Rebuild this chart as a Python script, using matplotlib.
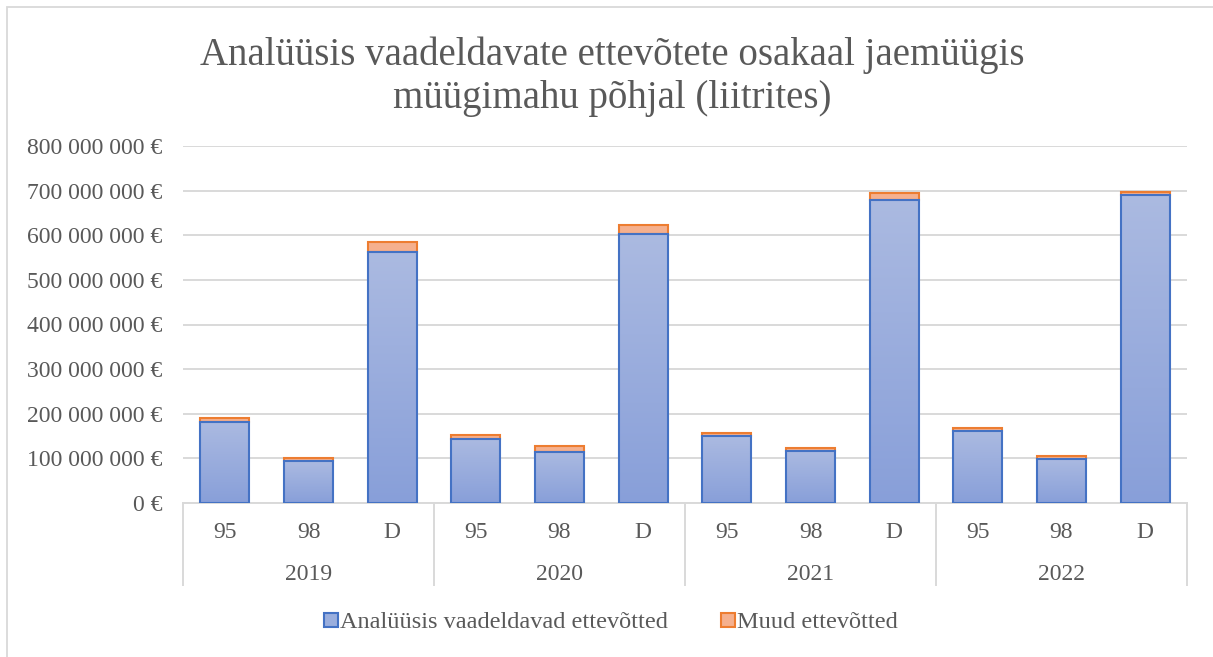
import matplotlib
matplotlib.use("Agg")
import matplotlib.pyplot as plt
import numpy as np
from matplotlib.colors import LinearSegmentedColormap
import matplotlib.transforms as mtransforms
from matplotlib.patches import Rectangle

years = ["2019", "2020", "2021", "2022"]
fuels = ["95", "98", "D"]
analyzed = [182e6, 94e6, 562e6, 143.5e6, 115e6, 602e6, 150e6, 117e6, 679e6, 161e6, 99e6, 691e6]
others = [8e6, 7.5e6, 22e6, 8e6, 12e6, 20e6, 6.5e6, 6.5e6, 15e6, 6e6, 6e6, 5.5e6]
yticks = [0, 100e6, 200e6, 300e6, 400e6, 500e6, 600e6, 700e6, 800e6]
ytick_labels = ["0 €", "100 000 000 €", "200 000 000 €", "300 000 000 €", "400 000 000 €",
                "500 000 000 €", "600 000 000 €", "700 000 000 €", "800 000 000 €"]
title = "Analüüsis vaadeldavate ettevõtete osakaal jaemüügis\nmüügimahu põhjal (liitrites)"
legend_labels = ["Analüüsis vaadeldavad ettevõtted", "Muud ettevõtted"]

plt.rcParams['font.family'] = ['Liberation Serif', 'DejaVu Serif']
TXT = '#595959'
GRID = '#d9d9d9'

W, H = 1213, 657
fig = plt.figure(figsize=(W / 100, H / 100), dpi=100)
ax = fig.add_axes([183 / W, 1 - 503 / H, (1187 - 183) / W, (503 - 146) / H])

n = len(analyzed)
x = np.arange(n)
bw = 0.585

bars1 = ax.bar(x, analyzed, bw, color='#9aaedd', edgecolor='#4472c4', linewidth=1.5, zorder=3,
               label=legend_labels[0])
bars2 = ax.bar(x, others, bw, bottom=analyzed, color='#f5b08e', edgecolor='#ed7d31', linewidth=1.5,
               zorder=3, label=legend_labels[1])

# gradient fill for blue bars
cmap = LinearSegmentedColormap.from_list('g', ['#889fd9', '#abbae1'])
grad = np.linspace(0, 1, 256).reshape(-1, 1)
for b in bars1:
    x0, y0 = b.get_x(), b.get_y()
    im = ax.imshow(grad, extent=[x0, x0 + b.get_width(), y0, y0 + b.get_height()], origin='lower',
                   aspect='auto', cmap=cmap, zorder=3.1)
    im.set_clip_path(b)
    b.set_facecolor('none')
    b.set_zorder(3.2)

ax.set_xlim(-0.5, n - 0.5)
ax.set_ylim(0, 800e6)
ax.set_yticks(yticks)
ax.set_yticklabels(ytick_labels, fontsize=17, color=TXT)
ax.tick_params(axis='y', length=0, pad=15)
ax.set_xticks([])
ax.grid(axis='y', color=GRID, linewidth=1.4, zorder=0)
for s in ['top', 'right', 'left']:
    ax.spines[s].set_visible(False)
ax.spines['bottom'].set_color(GRID)
ax.spines['bottom'].set_linewidth(1.4)

trans = mtransforms.blended_transform_factory(ax.transData, ax.transAxes)
axh = 503 - 146
for i, f in enumerate(fuels * len(years)):
    ax.text(i, -(533 - 503) / axh, f, transform=trans, ha='center', va='center', fontsize=17, color=TXT)
for g, yr in enumerate(years):
    ax.text(g * 3 + 1, -(575 - 503) / axh, yr, transform=trans, ha='center', va='center', fontsize=17,
            color=TXT)
for g in range(len(years) + 1):
    ax.plot([g * 3 - 0.5, g * 3 - 0.5], [0, -(585 - 503) / axh], transform=trans, color=GRID,
            linewidth=1.4, clip_on=False)

fig.text(612 / W, 1 - 77 / H, title, ha='center', va='center', fontsize=28, color=TXT, linespacing=1.22)

leg = fig.legend(handles=[bars1, bars2], labels=legend_labels, loc='center', bbox_to_anchor=(611 / W, 1 - 623 / H),
                 ncol=2, frameon=False, fontsize=17.5, handlelength=0.55, handleheight=0.55, handletextpad=0.1,
                 columnspacing=2.2, labelcolor=TXT)
for h in leg.legend_handles:
    h.set_linewidth(1.5)
leg.legend_handles[0].set_facecolor('#9aaedd')

# outer border (left and top visible)
fig.add_artist(Rectangle((7 / W, -0.1), 1.2, 1 - 7 / H + 0.1, transform=fig.transFigure, fill=False,
                         edgecolor=GRID, linewidth=1.3))

fig.savefig('out.png', dpi=100, facecolor='white')
